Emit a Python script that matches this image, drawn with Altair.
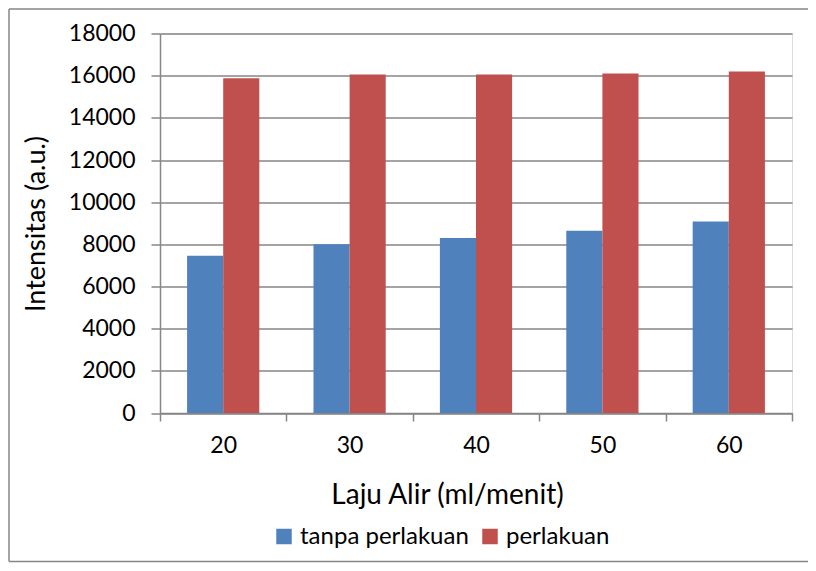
import altair as alt
import pandas as pd

categories = ["20", "30", "40", "50", "60"]
tanpa_perlakuan = [7460, 8000, 8300, 8650, 9080]
perlakuan = [15880, 16050, 16050, 16100, 16200]
series_names = ["tanpa perlakuan", "perlakuan"]
y_ticks = [0, 2000, 4000, 6000, 8000, 10000, 12000, 14000, 16000, 18000]

rows = []
for c, a, b in zip(categories, tanpa_perlakuan, perlakuan):
    rows.append({"laju": c, "seri": series_names[0], "nilai": a})
    rows.append({"laju": c, "seri": series_names[1], "nilai": b})
df = pd.DataFrame(rows)

FONT = "Lato"
GRID = "#868686"

bars = alt.Chart(df).mark_bar().encode(
    x=alt.X(
        "laju:N",
        sort=categories,
        scale=alt.Scale(paddingInner=0, paddingOuter=0),
        axis=alt.Axis(
            title="Laju Alir (ml/menit)",
            labelAngle=0,
            tickBand="extent",
            tickSize=8,
            tickColor=GRID,
            tickWidth=1.5,
            domainColor=GRID,
            domainWidth=1.5,
            labelPadding=13,
            labelFontSize=23,
            labelFont=FONT,
            labelColor="black",
            titleFont=FONT,
            titleFontSize=28,
            titleFontWeight="normal",
            titleColor="black",
            titleX=287,
            titleY=82,
            titleBaseline="middle",
            titleAlign="center",
            grid=False,
        ),
    ),
    xOffset=alt.XOffset(
        "seri:N",
        sort=series_names,
        scale=alt.Scale(paddingInner=0, paddingOuter=0.75),
    ),
    y=alt.Y(
        "nilai:Q",
        scale=alt.Scale(domain=[0, 18000], nice=False),
        axis=alt.Axis(
            title="Intensitas (a.u.)",
            values=y_ticks,
            format="d",
            grid=True,
            gridColor=GRID,
            gridWidth=1.5,
            tickSize=9,
            tickColor=GRID,
            tickWidth=1.5,
            domainColor=GRID,
            domainWidth=1.5,
            labelPadding=16,
            labelFontSize=23,
            labelFont=FONT,
            labelColor="black",
            titleFont=FONT,
            titleFontSize=27,
            titleFontWeight="normal",
            titleColor="black",
            titleAngle=270,
            titleX=-124,
            titleY=190,
            titleBaseline="middle",
            titleAlign="center",
        ),
    ),
    color=alt.Color(
        "seri:N",
        sort=series_names,
        scale=alt.Scale(domain=series_names, range=["#4F81BD", "#C0504D"]),
        legend=alt.Legend(
            title=None,
            orient="none",
            legendX=112,
            legendY=491,
            direction="horizontal",
            symbolType="square",
            symbolSize=240,
            symbolStrokeWidth=0,
            labelFont=FONT,
            labelFontSize=24,
            labelLimit=0,
            labelColor="black",
            labelOffset=4,
            columnPadding=9,
        ),
    ),
)

frame = alt.Data(values=[{}])
top_line = alt.Chart(frame).mark_rule(color=GRID, strokeWidth=1.5).encode(
    x=alt.value(-151), x2=alt.value(700), y=alt.value(-24.5)
)
left_line = alt.Chart(frame).mark_rule(color=GRID, strokeWidth=1.5).encode(
    x=alt.value(-151), y=alt.value(-24.5), y2=alt.value(528)
)
bottom_line = alt.Chart(frame).mark_rule(color=GRID, strokeWidth=1.5).encode(
    x=alt.value(-151), x2=alt.value(700), y=alt.value(528)
)

chart = alt.layer(top_line, left_line, bottom_line, bars).properties(
    width=632,
    height=379.5,
    padding={"left": 152, "top": 25.5, "right": 16, "bottom": 150},
    autosize=alt.AutoSizeParams(type="none"),
).configure_view(stroke=None).configure(background="white")

chart.save("out.html", embed_options={"renderer": "svg", "actions": False})
